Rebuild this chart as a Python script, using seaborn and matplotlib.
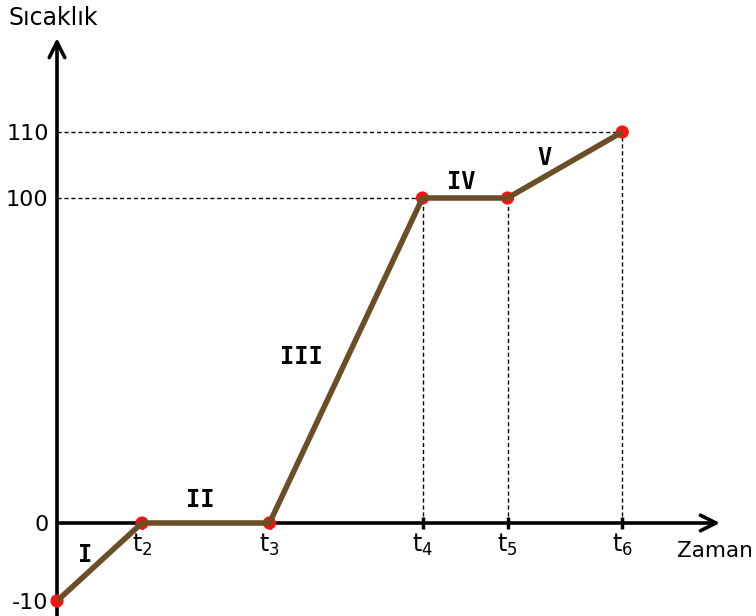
import numpy as np
import pandas as pd
import matplotlib
matplotlib.use("Agg")
import matplotlib.pyplot as plt
import seaborn as sns

# ---------------- data ----------------
time_values = [0.0, 1.0, 2.5, 4.3, 5.3, 6.65]          # t1..t6
temperatures = [-10, 0, 0, 100, 100, 110]
time_tick_labels = ["", r"$\mathregular{t_2}$", r"$\mathregular{t_3}$",
                    r"$\mathregular{t_4}$", r"$\mathregular{t_5}$", r"$\mathregular{t_6}$"]
temp_ticks = [-10, 0, 100, 110]
temp_tick_labels = ["-10", "0", "100", "110"]
segment_labels = ["I", "II", "III", "IV", "V"]
y_label = "Sıcaklık"
x_label = "Zaman"

df = pd.DataFrame({"Zaman": time_values, "Sıcaklık": temperatures})

# ---------------- style ----------------
sns.set_style("white")
plt.rcParams["font.family"] = ["DejaVu Sans"]
plt.rcParams["text.color"] = "black"
plt.rcParams["xtick.color"] = "black"
plt.rcParams["ytick.color"] = "black"

fig = plt.figure(figsize=(7.56, 6.16), dpi=100)
ax = fig.add_axes([57 / 756, 0.0, (720 - 57) / 756, (616 - 38) / 616])

# schematic (piecewise-linear) temperature scale
knot_v = [-1000, -10, 0, 100, 110, 1000]
knot_h = [15 - 990 * 7.8, 15, 93, 418, 484, 484 + 890 * 6.6]
fwd = lambda v: np.interp(v, knot_v, knot_h)
inv = lambda h: np.interp(h, knot_h, knot_v)
ax.set_yscale("function", functions=(fwd, inv))

x_end = 663 / 85
ax.set_xlim(0, x_end)
ax.set_ylim(inv(0), inv(578))

line_color = "#6b4e26"

# dashed guide lines
for i in [3, 5]:
    ax.hlines(temperatures[i], 0, time_values[i], colors="black",
              linestyles=(0, (3, 2)), lw=1.0, zorder=1)
for i in [3, 4, 5]:
    ax.vlines(time_values[i], 0, temperatures[i], colors="black",
              linestyles=(0, (3, 2)), lw=1.0, zorder=1)

# axes arrows
ax.annotate("", xy=(0, 1), xycoords="axes fraction", xytext=(0, 0),
            textcoords="axes fraction",
            arrowprops=dict(arrowstyle="->", lw=2.6, color="black",
                            mutation_scale=28, shrinkA=0, shrinkB=0), zorder=2)
ax.annotate("", xy=(x_end, 0), xycoords="data", xytext=(0, 0),
            textcoords="data",
            arrowprops=dict(arrowstyle="->", lw=2.6, color="black",
                            mutation_scale=28, shrinkA=0, shrinkB=0), zorder=2)

# curve
sns.lineplot(data=df, x="Zaman", y="Sıcaklık", ax=ax, color=line_color,
             lw=4.0, sort=False, zorder=4, solid_capstyle="butt")
sns.scatterplot(data=df, x="Zaman", y="Sıcaklık", ax=ax, color="#ff1010",
                s=90, edgecolor="none", zorder=3, clip_on=False)

# segment labels
label_pos = [(0.33, -4.1), (1.68, 7.1), (2.88, 51), (4.76, 102.4), (5.74, 106)]
for txt, (lx, ly) in zip(segment_labels, label_pos):
    ax.text(lx, ly, txt, fontsize=17, fontweight="bold", color="black",
            family="DejaVu Sans Mono", ha="center", va="center", zorder=5)

# ticks
for s in ax.spines.values():
    s.set_visible(False)
ax.spines["bottom"].set_position(("data", 0))
ax.set_xticks(time_values[1:])
ax.set_xticklabels(time_tick_labels[1:], fontsize=17)
ax.tick_params(axis="x", direction="inout", length=9, width=2.5, pad=2,
               color="black", labelcolor="black", bottom=True)
ax.set_yticks(temp_ticks)
ax.set_yticklabels(temp_tick_labels, fontsize=16)
ax.tick_params(axis="y", length=0, pad=6, left=True, labelcolor="black")
ax.set_xlabel("")
ax.set_ylabel("")
ax.grid(False)

fig.text(8 / 756, 1 - 18 / 616, y_label, fontsize=17, ha="left", va="center",
         color="black")
fig.text(753 / 756, 1 - 551 / 616, x_label, fontsize=15.5, ha="right",
         va="center", color="black")

fig.savefig("out.png", dpi=100)
